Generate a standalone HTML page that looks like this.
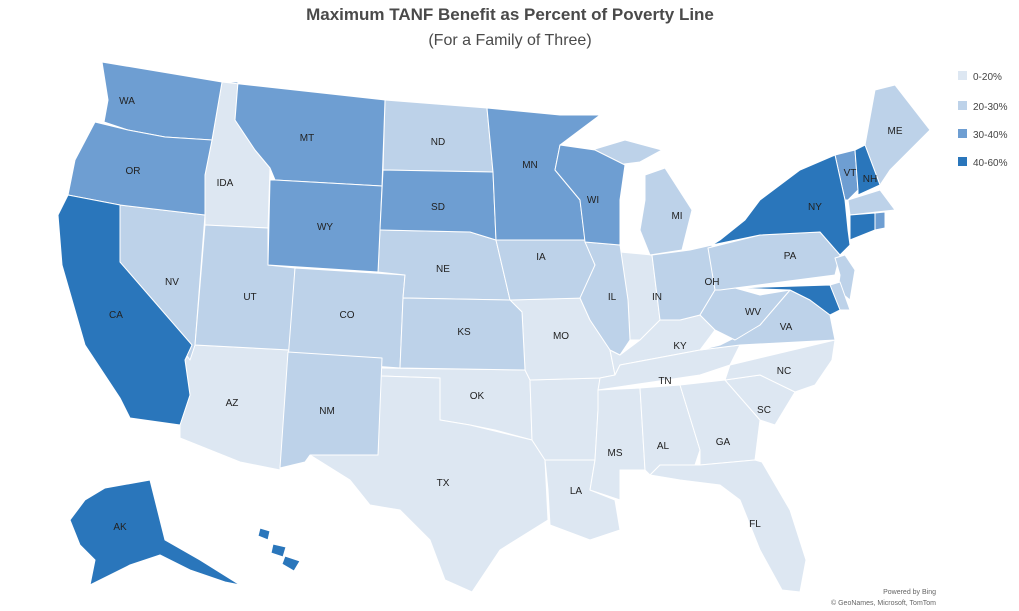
<!DOCTYPE html>
<html><head><meta charset="utf-8"><style>
body{margin:0;background:#fff;width:1019px;height:611px;overflow:hidden;font-family:"Liberation Sans",sans-serif}
svg{position:absolute;left:0;top:0}
</style></head><body>
<svg width="1019" height="611" viewBox="0 0 1019 611" xmlns="http://www.w3.org/2000/svg">
<text x="510" y="20" text-anchor="middle" font-size="17" font-weight="bold" fill="#4a4a4a">Maximum TANF Benefit as Percent of Poverty Line</text>
<text x="510" y="45" text-anchor="middle" font-size="16" fill="#4a4a4a">(For a Family of Three)</text>
<g stroke="#fff" stroke-width="1" stroke-linejoin="round">
<g fill="#dde7f2">
<polygon points="222,82 238,82 235,120 255,150 270,168 268,228 205,225 205,175 212,140"/>
<polygon points="195,345 290,350 280,470 240,462 180,438 180,425 190,395 185,360"/>
<polygon points="380,368 525,370 530,380 532,440 495,430 470,425 440,420 440,378 380,376"/>
<polygon points="380,376 440,378 440,420 470,425 532,440 545,460 548,520 500,550 472,592 445,580 430,540 400,510 370,505 350,480 310,455 378,455"/>
<polygon points="545,460 595,460 590,490 615,500 620,530 590,540 550,525 548,490"/>
<polygon points="530,380 600,378 598,410 595,460 545,460 532,440"/>
<polygon points="510,300 580,298 590,320 610,350 615,375 600,378 530,380 525,370 522,312"/>
<polygon points="620,252 652,255 660,320 640,340 630,340 628,300"/>
<polygon points="610,350 620,355 640,340 660,320 680,320 700,315 715,330 700,350 620,365 615,375"/>
<polygon points="600,378 615,375 620,365 700,350 740,345 730,365 700,375 598,390"/>
<polygon points="598,390 640,388 645,470 620,470 620,500 590,490 595,460 598,410"/>
<polygon points="640,388 680,385 700,450 695,465 660,465 650,475 645,470"/>
<polygon points="680,385 725,380 760,420 755,460 700,465 700,450"/>
<polygon points="650,475 660,465 700,465 755,460 762,462 790,510 806,560 800,592 782,590 760,550 740,500 720,485 680,480"/>
<polygon points="725,380 760,375 795,392 775,425 760,420"/>
<polygon points="730,365 835,340 832,360 815,385 795,392 760,375 725,380"/>
</g>
<g fill="#bdd2e9">
<polygon points="120,205 205,215 195,345 190,360 120,262"/>
<polygon points="205,225 268,228 268,265 295,268 290,350 195,345"/>
<polygon points="295,268 405,275 403,298 400,368 288,360"/>
<polygon points="288,352 382,358 378,455 310,455 305,462 280,468"/>
<polygon points="385,100 487,108 493,172 383,170"/>
<polygon points="380,230 470,232 496,240 510,300 403,298 405,275 378,272"/>
<polygon points="403,298 510,300 522,312 525,370 400,368"/>
<polygon points="496,240 585,240 595,265 585,298 510,300"/>
<polygon points="585,242 620,245 628,300 630,340 620,355 610,350 590,320 580,298 595,265"/>
<polygon points="585,152 625,140 662,150 640,162 600,167"/>
<polygon points="645,175 665,168 692,210 682,250 650,255 640,230 645,200"/>
<polygon points="652,255 690,250 712,245 715,290 700,315 680,320 660,320"/>
<polygon points="700,350 740,345 835,340 830,315 810,300 790,290 760,325 720,345"/>
<polygon points="715,290 735,288 760,295 790,290 760,325 735,340 715,330 700,315"/>
<polygon points="708,248 760,235 820,232 840,255 835,275 720,290 715,290"/>
<polygon points="835,258 845,255 855,270 850,300 838,290 840,275"/>
<polygon points="830,285 840,282 850,310 840,310"/>
<polygon points="865,145 875,90 895,85 930,130 890,170 880,185"/>
<polygon points="848,200 880,190 895,210 850,215"/>
</g>
<g fill="#6e9ed2">
<polygon points="102,62 222,82 212,140 165,137 128,130 104,122 108,100"/>
<polygon points="95,122 128,130 165,137 212,140 205,175 205,215 120,205 68,195 75,160"/>
<polygon points="222,82 385,100 382,186 275,180 270,168 255,150 235,120 238,82"/>
<polygon points="275,180 382,186 378,272 268,265 270,180"/>
<polygon points="383,170 493,172 496,240 470,232 380,230"/>
<polygon points="487,108 560,115 600,115 560,145 555,170 580,200 585,240 496,240 493,172"/>
<polygon points="560,145 595,150 625,165 620,200 620,245 585,242 580,200 555,170"/>
<polygon points="835,155 855,150 858,190 848,200 845,200"/>
<polygon points="875,213 885,212 885,228 875,230"/>
</g>
<g fill="#2a76bb">
<polygon points="68,195 120,205 120,262 192,345 185,360 190,395 180,425 130,418 120,398 85,345 62,265 58,215"/>
<polygon points="720,240 745,220 760,200 800,170 835,155 845,200 848,230 850,245 840,255 820,232 760,235 712,245"/>
<polygon points="855,150 865,145 880,185 858,195 858,190"/>
<polygon points="850,215 875,213 875,230 850,240"/>
<polygon points="735,288 830,285 840,310 830,315 810,300 790,290"/>
<polygon points="105,488 150,480 165,540 200,560 240,585 225,582 190,570 160,555 130,565 90,585 95,560 80,545 70,520 85,500"/>
<polygon points="260,528 270,531 268,540 258,536"/><polygon points="273,544 286,547 283,557 271,553"/><polygon points="285,556 300,561 294,571 282,564"/>
</g>
</g>
<g font-size="10" fill="#222" text-anchor="middle">
<text x="127" y="104">WA</text><text x="133" y="174">OR</text><text x="225" y="186">IDA</text>
<text x="307" y="141">MT</text><text x="438" y="145">ND</text><text x="438" y="210">SD</text>
<text x="325" y="230">WY</text><text x="172" y="285">NV</text><text x="250" y="300">UT</text>
<text x="116" y="318">CA</text><text x="347" y="318">CO</text><text x="443" y="272">NE</text>
<text x="464" y="335">KS</text><text x="530" y="168">MN</text><text x="593" y="203">WI</text>
<text x="677" y="219">MI</text><text x="541" y="260">IA</text><text x="612" y="300">IL</text>
<text x="657" y="300">IN</text><text x="712" y="285">OH</text><text x="561" y="339">MO</text>
<text x="680" y="349">KY</text><text x="753" y="315">WV</text><text x="786" y="330">VA</text>
<text x="790" y="259">PA</text><text x="815" y="210">NY</text><text x="850" y="176">VT</text>
<text x="870" y="182">NH</text><text x="895" y="134">ME</text><text x="477" y="399">OK</text>
<text x="232" y="406">AZ</text><text x="327" y="414">NM</text><text x="665" y="384">TN</text>
<text x="784" y="374">NC</text><text x="764" y="413">SC</text><text x="723" y="445">GA</text>
<text x="663" y="449">AL</text><text x="615" y="456">MS</text><text x="443" y="486">TX</text>
<text x="576" y="494">LA</text><text x="755" y="527">FL</text><text x="120" y="530">AK</text>
</g>
<g font-size="10" fill="#444">
<rect x="958" y="71" width="9" height="9" fill="#dde7f2"/><text x="973" y="80">0-20%</text>
<rect x="958" y="101" width="9" height="9" fill="#bdd2e9"/><text x="973" y="110">20-30%</text>
<rect x="958" y="129" width="9" height="9" fill="#6e9ed2"/><text x="973" y="138">30-40%</text>
<rect x="958" y="157" width="9" height="9" fill="#2a76bb"/><text x="973" y="166">40-60%</text>
</g>
<g font-size="7" fill="#666" text-anchor="end">
<text x="936" y="594">Powered by Bing</text>
<text x="936" y="605">© GeoNames, Microsoft, TomTom</text>
</g>
</svg>
</body></html>
